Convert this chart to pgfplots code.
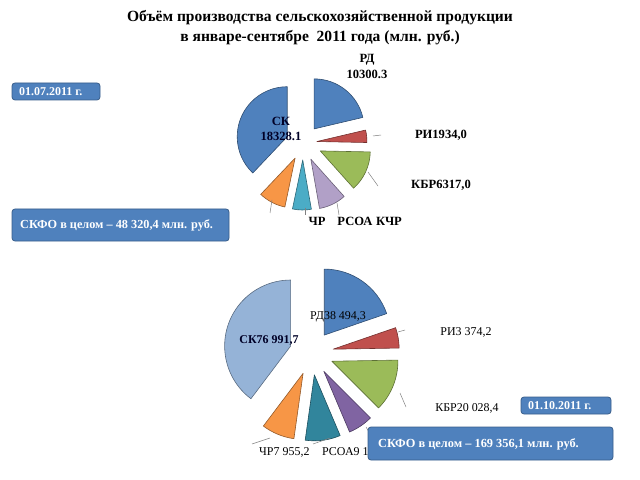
\documentclass[border=0pt]{standalone}
\usepackage{pgfplots}
\pgfplotsset{compat=1.18}
\usepackage{fontspec}
\setmainfont{Liberation Serif}
\definecolor{cblue}{HTML}{4F81BD}
\definecolor{cred}{HTML}{C0504D}
\definecolor{cgreen}{HTML}{9BBB59}
\definecolor{clav}{HTML}{B1A0C7}
\definecolor{cpurple}{HTML}{8064A2}
\definecolor{ccyan}{HTML}{4BACC6}
\definecolor{cteal}{HTML}{31859C}
\definecolor{corange}{HTML}{F79646}
\definecolor{clight}{HTML}{95B3D7}
\definecolor{boxblue}{HTML}{4F81BD}
\definecolor{boxedge}{HTML}{385D8A}
\def\piestart{90}
% #1 cx, #2 cy, #3 r, #4 explode, #5 total, #6 value, #7 colour
\newcommand\pieslice[7]{%
  \begingroup\pgfkeys{/pgf/fpu=true,/pgf/fpu/output format=fixed}%
  \pgfmathparse{360*#6/#5}\xdef\sweep{\pgfmathresult}\endgroup
  \pgfmathsetmacro\aone{\piestart}%
  \pgfmathsetmacro\atwo{\piestart-\sweep}%
  \xdef\piestart{\atwo}%
  \pgfmathsetmacro\mid{(\aone+\atwo)/2}%
  \pgfmathsetmacro\ox{#1+#4*cos(\mid)}%
  \pgfmathsetmacro\oy{#2-#4*sin(\mid)}%
  \pgfmathsetmacro\sx{\ox+#3*cos(\aone)}%
  \pgfmathsetmacro\sy{\oy-#3*sin(\aone)}%
  \edef\temp{\noexpand\fill[#7,draw=#7!60!black,line width=0.6pt,line join=round] (axis cs:\ox,\oy) -- (axis cs:\sx,\sy) arc[start angle=\aone,end angle=\atwo,radius=#3bp] -- cycle;}%
  \temp}
\newcommand\lab[1]{\fontsize{12}{14}\selectfont #1}
\newcommand\tlab[1]{\fontsize{12.6}{14}\selectfont #1}
\begin{document}
\begin{tikzpicture}
\begin{axis}[width=640bp,height=480bp,scale only axis,xmin=0,xmax=640,ymin=0,ymax=480,
  y dir=reverse,hide axis,clip=false]
\path (axis cs:0,0) rectangle (axis cs:640,480);
% title
\node[font=\fontsize{15.6}{18}\selectfont\bfseries] at (axis cs:320,18) {Объём производства сельскохозяйственной продукции};
\node[font=\fontsize{15.6}{18}\selectfont\bfseries] at (axis cs:320,38) {в январе-сентябре\ \ 2011 года (млн. руб.)};
% top pie (01.07.2011)
\gdef\piestart{90}
\foreach \v/\c/\d in {10300.3/cblue/18, 1934.0/cred/14, 6317.0/cgreen/19, 4270.0/clav/18, 2930.0/ccyan/17, 4240.9/corange/17, 18328.1/cblue/17}
  {\pieslice{303}{143}{50}{\d}{48320.4}{\v}{\c}}
% bottom pie (01.10.2011)
\gdef\piestart{90}
\foreach \v/\c/\d in {33400/cblue/22, 8470/cred/22, 21640/cgreen/22, 10350/cpurple/22, 14580/cteal/22, 13640/corange/22, 67276.1/clight/22}
  {\pieslice{311.5}{353}{66}{\d}{169356.1}{\v}{\c}}
% leader lines
\begin{scope}[draw=black!50,line width=0.5pt]
\draw (axis cs:373,136) -- (axis cs:381,135);
\draw (axis cs:368,172) -- (axis cs:378,186);
\draw (axis cs:337,203) -- (axis cs:339,215);
\draw (axis cs:305,208) -- (axis cs:305,215);
\draw (axis cs:272,200) -- (axis cs:270,213);
\draw (axis cs:398,332) -- (axis cs:405,330);
\draw (axis cs:400,393) -- (axis cs:406,407);
\draw (axis cs:366,427) -- (axis cs:372,437);
\draw (axis cs:313,444) -- (axis cs:330,438);
\draw (axis cs:252,444) -- (axis cs:270,438);
\end{scope}
% top labels
\node[font=\tlab{\bfseries}] at (axis cs:367,60) {РД};
\node[font=\tlab{\bfseries}] at (axis cs:367,74) {10300.3};
\node[font=\tlab{\bfseries},text=black!85!blue] at (axis cs:281,121) {СК};
\node[font=\tlab{\bfseries},text=black!85!blue] at (axis cs:281,136) {18328.1};
\node[font=\tlab{\bfseries}] at (axis cs:441,135) {РИ1934,0};
\node[font=\tlab{\bfseries}] at (axis cs:441,185) {КБР6317,0};
\node[font=\tlab{\bfseries}] at (axis cs:317,221) {ЧР};
\node[font=\tlab{\bfseries}] at (axis cs:355,221) {РСОА};
\node[font=\tlab{\bfseries}] at (axis cs:389,221) {КЧР};
% bottom labels
\node[font=\lab{}] at (axis cs:338,317) {РД38 494,3};
\node[font=\lab{\bfseries},text=black!85!blue] at (axis cs:269,340) {СК76 991,7};
\node[font=\lab{}] at (axis cs:466,332) {РИ3 374,2};
\node[font=\lab{}] at (axis cs:467,408) {КБР20 028,4};
\node[font=\lab{},anchor=west,inner sep=0pt] at (axis cs:259,452) {ЧР7 955,2};
\node[font=\lab{},anchor=west,inner sep=0pt] at (axis cs:322,452) {РСОА9 156,2};
% boxes
\begin{scope}[fill=boxblue,draw=boxedge,line width=0.8pt,rounded corners=3bp]
\filldraw (axis cs:12,83) rectangle (axis cs:100,100);
\filldraw (axis cs:12,209) rectangle (axis cs:229,241);
\filldraw (axis cs:521,397) rectangle (axis cs:611,414);
\filldraw (axis cs:368,427) rectangle (axis cs:613,460);
\end{scope}
\node[font=\lab{\bfseries},text=white,anchor=west,inner sep=0pt] at (axis cs:19,91.5) {01.07.2011 г.};
\node[font=\fontsize{12.3}{14}\selectfont\bfseries,text=white,anchor=west,inner sep=0pt] at (axis cs:20,225) {СКФО в целом – 48 320,4 млн. руб.};
\node[font=\lab{\bfseries},text=white,anchor=west,inner sep=0pt] at (axis cs:528,405.5) {01.10.2011 г.};
\node[font=\fontsize{12.4}{15}\selectfont\bfseries,text=white,anchor=west,inner sep=0pt] at (axis cs:378,444) {СКФО в целом – 169 356,1 млн. руб.};
\end{axis}
\end{tikzpicture}
\end{document}
